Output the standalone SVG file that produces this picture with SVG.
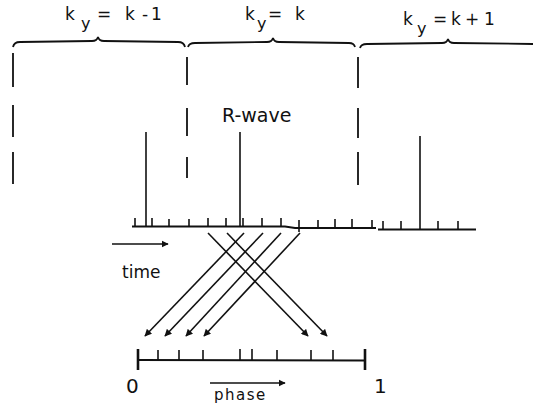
<svg xmlns="http://www.w3.org/2000/svg" width="533" height="409" viewBox="0 0 533 409">
<style>
.ln{stroke:#111;stroke-width:1.8;fill:none}
.tk{stroke:#111;stroke-width:1.6}
.dash{stroke:#111;stroke-width:1.8}
.arr{stroke:#111;stroke-width:1.6;fill:none;marker-end:url(#ah)}
text{font-family:"DejaVu Sans",sans-serif;fill:#111}
.lab{font-size:17px}
.sub{font-size:16px}
</style>
<defs>
<marker id="ah" viewBox="0 0 10 10" refX="9" refY="5" markerWidth="4.5" markerHeight="4.5" orient="auto" markerUnits="strokeWidth">
<path d="M0,0 L10,5 L0,10 Z" fill="#111"/>
</marker>
</defs>
<rect width="533" height="409" fill="#fff"/>
<g id="label-k-minus-1">
<text class="lab" x="65" y="20">k</text>
<text class="sub" x="81" y="29">y</text>
<text class="lab" x="97" y="20">=</text>
<text class="lab" x="125" y="20">k</text>
<text class="lab" x="142" y="20">-</text>
<text class="lab" x="151" y="20">1</text>
</g>
<g id="label-k">
<text class="lab" x="245" y="20">k</text>
<text class="sub" x="257" y="29">y</text>
<text class="lab" x="268" y="20">=</text>
<text class="lab" x="295" y="20">k</text>
</g>
<g id="label-k-plus-1">
<text class="lab" x="403" y="25">k</text>
<text class="sub" x="417" y="34">y</text>
<text class="lab" x="433" y="25">=</text>
<text class="lab" x="451" y="25">k</text>
<text class="lab" x="465" y="25" font-size="14">+</text>
<text class="lab" x="484" y="25">1</text>
</g>
<g id="braces">
<path class="ln" d="M13,47 Q14,42 20,42 L92,41 Q97,41 98,37 Q99,41 104,41 L178,42 Q184,42 185,47"/>
<path class="ln" d="M188,47 Q189,43 195,43 L267,42 Q272,42 273,38 Q274,42 279,42 L349,43 Q354,43 355,47"/>
<path class="ln" d="M360,48 Q361,44 367,44 L442,43 Q447,43 448,39 Q449,43 454,43 L533,44"/>
</g>
<g id="boundaries">
<line class="dash" x1="13" y1="53" x2="13" y2="87"/>
<line class="dash" x1="13" y1="105" x2="13" y2="137"/>
<line class="dash" x1="13" y1="152" x2="13" y2="184"/>
<line class="dash" x1="187" y1="57" x2="187" y2="85"/>
<line class="dash" x1="187" y1="108" x2="187" y2="136"/>
<line class="dash" x1="187" y1="157" x2="187" y2="178"/>
<line class="dash" x1="358" y1="57" x2="358" y2="88"/>
<line class="dash" x1="358" y1="108" x2="358" y2="138"/>
<line class="dash" x1="358" y1="152" x2="358" y2="185"/>
</g>
<g id="r-wave-label">
<text x="222" y="122" font-size="19">R-wave</text>
</g>
<g id="time-axis">
<path class="ln" d="M132,226.5 L285,226.5 L295,228 L376,228 M378,229.5 L476,229.5"/>
<line class="tk" x1="146" y1="132" x2="146" y2="226.5"/>
<line class="tk" x1="240" y1="132" x2="240" y2="226.5"/>
<line class="tk" x1="420" y1="136" x2="420" y2="229.5"/>
<g>
<line class="tk" x1="135" y1="218" x2="135" y2="226.5"/>
<line class="tk" x1="152" y1="218" x2="152" y2="226.5"/>
<line class="tk" x1="169" y1="219" x2="169" y2="226.5"/>
<line class="tk" x1="189" y1="219" x2="189" y2="226.5"/>
<line class="tk" x1="208" y1="218" x2="208" y2="226.5"/>
<line class="tk" x1="226" y1="218" x2="226" y2="226.5"/>
<line class="tk" x1="243" y1="218" x2="243" y2="226.5"/>
<line class="tk" x1="262" y1="218" x2="262" y2="226.5"/>
<line class="tk" x1="281" y1="218" x2="281" y2="226.5"/>
<line class="tk" x1="299" y1="220" x2="299" y2="232"/>
<line class="tk" x1="318" y1="220" x2="318" y2="228"/>
<line class="tk" x1="335" y1="219" x2="335" y2="228"/>
<line class="tk" x1="352" y1="219" x2="352" y2="228"/>
<line class="tk" x1="372" y1="220" x2="372" y2="228"/>
<line class="tk" x1="383" y1="221" x2="383" y2="229.5"/>
<line class="tk" x1="401" y1="221" x2="401" y2="229.5"/>
<line class="tk" x1="438" y1="221" x2="438" y2="229.5"/>
<line class="tk" x1="458" y1="221" x2="458" y2="229.5"/>
</g>
</g>
<g id="time-label">
<line class="arr" x1="112" y1="244" x2="168" y2="244"/>
<text x="122" y="278" font-size="17">time</text>
</g>
<g id="phase-axis">
<line class="ln" x1="138" y1="360" x2="365" y2="360.5"/>
<line x1="138" y1="349" x2="138" y2="370" stroke="#111" stroke-width="2.6"/>
<line x1="365" y1="349" x2="365" y2="370" stroke="#111" stroke-width="2.6"/>
<line class="tk" x1="158" y1="350" x2="158" y2="360"/>
<line class="tk" x1="179" y1="350" x2="179" y2="360"/>
<line class="tk" x1="203" y1="350" x2="203" y2="360"/>
<line class="tk" x1="240" y1="349" x2="240" y2="360"/>
<line class="tk" x1="252" y1="349" x2="252" y2="360"/>
<line class="tk" x1="277" y1="350" x2="277" y2="360"/>
<line class="tk" x1="311" y1="350" x2="311" y2="360"/>
<line class="tk" x1="333" y1="350" x2="333" y2="360"/>
<text x="126" y="393" font-size="20">0</text>
<text x="374" y="393" font-size="20">1</text>
</g>
<g id="phase-label">
<line class="arr" x1="210" y1="383" x2="285" y2="383"/>
<text x="214" y="400" font-size="15" letter-spacing="1.5">phase</text>
</g>
<g id="connectors">
<line class="arr" x1="208" y1="233" x2="308" y2="336"/>
<line class="arr" x1="227" y1="233" x2="327" y2="336"/>
<line class="arr" x1="244" y1="233" x2="145" y2="336"/>
<line class="arr" x1="263" y1="233" x2="165" y2="336"/>
<line class="arr" x1="281" y1="233" x2="186" y2="336"/>
<line class="arr" x1="300" y1="233" x2="204" y2="336"/>
</g>
</svg>
